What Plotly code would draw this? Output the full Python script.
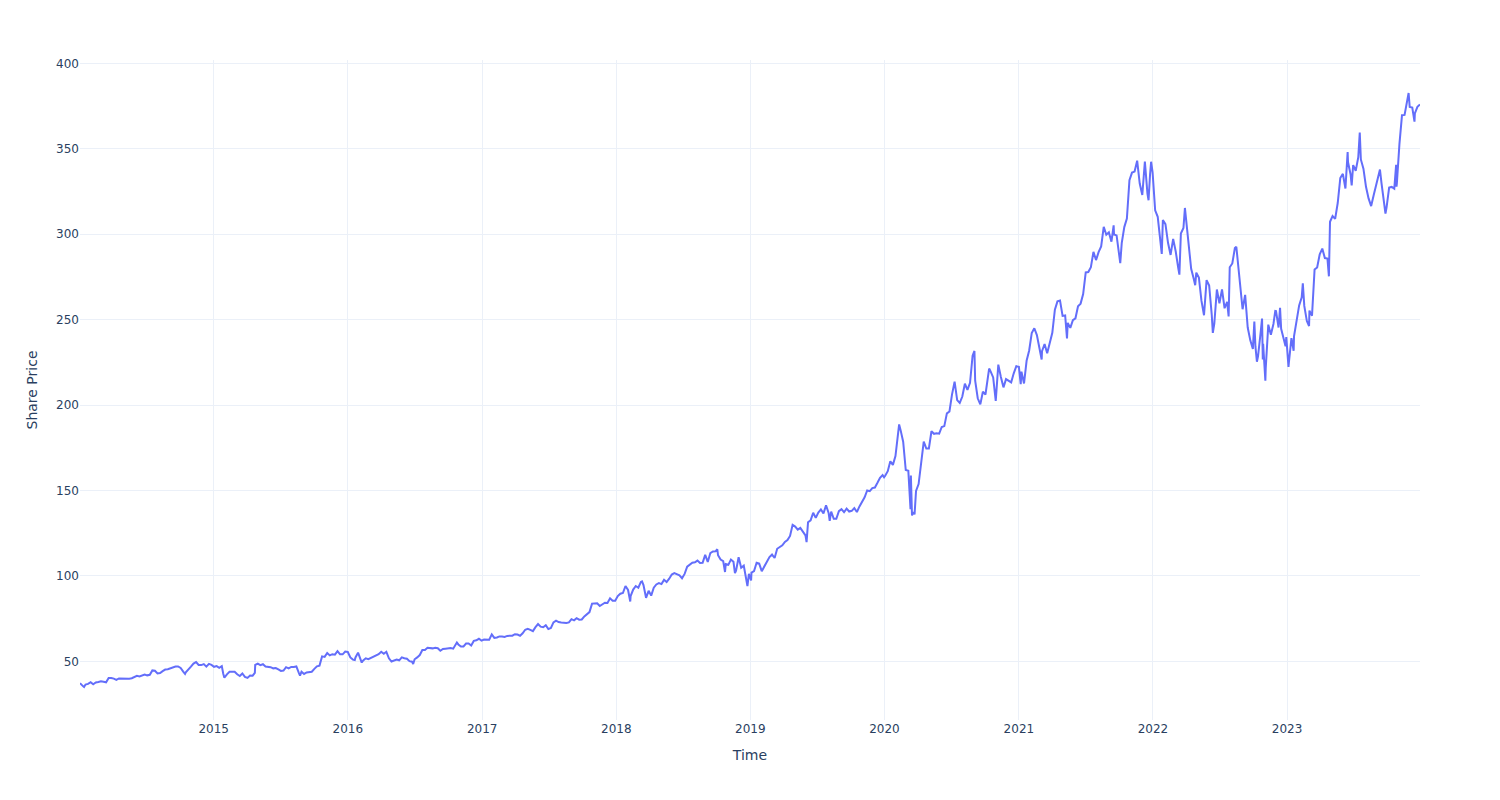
import pandas as pd
import plotly.graph_objs as go

# weekly closes (Fridays)
prices_2014 = [36.9, 35.5, 36.4, 36.8, 37.8, 36.6, 37.6, 37.9, 38.3, 38.0, 37.7, 40.2, 40.3,
               39.9, 39.2, 40.0, 39.9, 39.7, 39.5, 39.8, 40.1, 40.9, 41.5, 41.2, 41.7, 42.3,
               41.8, 42.1, 44.7, 44.5, 42.9, 43.2, 44.3, 45.2, 45.4, 46.0, 46.7, 47.0, 47.0,
               46.1, 44.0, 43.6, 45.0, 46.9, 48.7, 49.6, 47.9, 47.8, 48.4, 46.9, 48.5, 47.9]
prices_2015 = [46.8, 47.2, 46.2, 47.2, 40.4, 42.4, 43.9, 43.9, 43.9, 42.4, 41.4, 42.9, 40.9,
               40.3, 41.7, 41.6, 47.9, 48.7, 47.8, 48.3, 47.0, 47.0, 46.6, 45.9, 46.1, 45.3,
               44.4, 44.6, 46.6, 45.9, 46.7, 46.7, 47.0, 43.1, 43.9, 42.6, 43.5, 43.5, 43.9,
               45.6, 47.1, 47.5, 52.9, 52.6, 54.9, 53.5, 54.2, 53.9, 56.0, 54.1, 54.1, 55.7]
prices_2016 = [55.5, 52.3, 51.0, 52.3, 55.1, 50.2, 50.5, 51.8, 51.3, 52.0, 53.1, 53.5, 54.2,
               55.6, 54.4, 55.6, 51.8, 49.9, 50.4, 51.1, 50.6, 52.3, 51.8, 51.5, 50.1, 49.8,
               51.2, 52.3, 53.7, 56.6, 56.7, 57.96, 57.9, 57.6, 58.0, 57.7, 56.2, 57.2, 57.4,
               57.6, 57.8, 57.4, 59.7, 59.9, 58.7, 58.7, 60.4, 60.5, 59.3, 61.97, 62.3, 63.2, 62.1]
prices_2017 = [62.8, 62.7, 62.7, 65.8, 63.7, 64.0, 64.6, 64.6, 64.3, 64.9, 64.9, 65.0, 65.9,
               65.7, 65.0, 66.4, 68.5, 69.0, 68.4, 67.7, 70.0, 71.8, 70.3, 70.0, 71.2, 68.9,
               69.5, 72.8, 73.8, 73.0, 72.7, 72.5, 72.5, 72.8, 74.7, 74.0, 75.3, 74.4, 74.5,
               76.3, 77.5, 78.8, 83.8, 84.1, 84.0, 82.4, 83.3, 84.3, 84.2, 86.9, 85.5, 85.5]
prices_2018 = [88.2, 89.6, 90.0, 94.1, 91.8, 88.2, 92.0, 94.1, 93.1, 96.5, 94.6, 87.2, 91.3,
               88.5, 93.1, 95.0, 95.8, 95.2, 97.7, 96.4, 98.4, 100.8, 101.6, 101.0, 100.4, 98.6,
               101.2, 105.4, 106.3, 107.7, 108.0, 109.0, 107.6, 107.7, 112.3, 108.2, 113.4, 114.3, 114.4,
               112.1, 109.6, 108.7, 107.0, 106.5, 109.6, 108.3, 103.1, 110.9, 104.8, 106.0, 98.2, 101.2]
prices_2019 = [101.9, 102.8, 107.7, 107.2, 102.8, 105.7, 108.2, 111.0, 112.5, 110.5, 115.9, 117.05, 117.9,
               119.9, 120.95, 123.4, 129.9, 128.9, 127.1, 128.1, 126.2, 123.7, 131.4, 132.5, 137.0, 134.0,
               137.1, 138.9, 136.6, 141.3, 136.9, 137.7, 133.4, 133.4, 137.9, 139.1, 137.3, 139.4, 137.7,
               138.1, 139.7, 137.4, 140.7, 143.7, 146.0, 150.0, 149.6, 151.4, 151.75, 154.5, 157.4, 159.0]
prices_2020 = [158.6, 161.3, 167.1, 165.0, 170.2, 183.9, 185.35, 178.6, 162.0, 161.6, 158.8, 137.35, 149.7,
               153.8, 165.1, 178.6, 174.55, 174.6, 184.7, 183.2, 183.5, 183.25, 187.2, 187.7, 195.15, 196.3,
               206.3, 213.7, 202.9, 201.3, 205.0, 212.5, 208.9, 213.0, 228.9, 214.25, 204.0, 200.4, 207.8,
               206.2, 215.8, 219.7, 216.2, 202.5, 223.7, 216.5, 210.4, 215.2, 214.4, 213.3, 218.6, 222.75]
prices_2021 = [222.4, 219.6, 212.65, 225.95, 231.96, 242.2, 244.99, 240.97, 232.4, 231.6, 235.75, 230.35, 236.5,
               242.35, 255.85, 260.7, 261.15, 252.2, 252.5, 248.15, 245.2, 249.7, 250.8, 257.9, 259.4, 265.0,
               277.65, 277.9, 280.75, 289.7, 284.9, 289.5, 292.85, 304.4, 299.7, 301.1, 295.7, 299.9, 299.35,
               289.1, 294.85, 304.2, 309.2, 331.6, 336.1, 336.7, 343.1, 329.7, 323.0, 342.5, 323.8, 334.7, 336.3]
prices_2022 = [314.0, 310.2, 296.0, 308.3, 305.9, 295.0, 287.9, 297.3, 289.9, 280.1, 300.4, 303.7,
               309.4, 297.0, 279.8, 274.0, 277.5, 274.7, 261.1, 252.6, 273.2, 270.0, 253.0, 247.65, 267.7,
               259.6, 267.7, 256.7, 260.4, 280.7, 282.9, 291.9, 286.15, 268.1, 256.1, 264.5, 245.4, 237.9, 232.9,
               234.2, 228.6, 242.1, 235.9, 221.4, 247.1, 241.2, 247.5, 255.0, 245.4, 244.7, 238.7, 239.8]
prices_2023 = [224.9, 239.2, 240.2, 248.2, 258.35, 263.1, 258.06, 249.2, 255.3, 252.3, 279.4, 280.6, 288.3,
               291.6, 286.1, 285.8, 307.3, 310.65, 309.0, 318.3, 332.9, 335.4, 326.8, 342.3, 335.0, 340.5,
               337.2, 345.2, 343.8, 338.4, 327.8, 321.0, 316.5, 323.0, 328.7, 334.3, 330.2, 317.0, 315.75,
               327.3, 327.7, 326.7, 329.8, 352.8, 369.7, 369.85, 377.4, 374.5, 374.2, 370.7, 374.6, 376.0]

# daily highs / lows between the weekly samples
extra_dates = ['2014-01-02', '2014-01-13', '2014-10-15', '2015-01-27', '2015-04-23', '2015-08-24',
               '2016-01-20', '2016-02-08', '2016-06-27', '2016-10-24', '2018-02-08', '2018-03-12',
               '2018-10-03', '2018-10-24', '2018-11-20', '2018-12-24', '2019-01-03', '2019-06-03',
               '2019-08-05', '2019-12-31', '2020-02-10', '2020-03-12', '2020-03-16', '2020-03-23',
               '2020-09-02', '2020-10-12', '2021-01-06', '2021-03-04', '2021-05-12', '2021-09-16',
               '2021-10-04', '2021-12-20', '2021-12-27', '2022-01-25', '2022-03-14', '2022-03-29',
               '2022-04-26', '2022-06-13', '2022-07-26', '2022-08-16', '2022-10-04', '2022-10-11',
               '2022-10-25', '2022-10-27', '2022-11-03', '2022-11-30', '2022-12-13', '2022-12-28',
               '2023-01-05', '2023-01-19', '2023-02-13', '2023-03-02', '2023-04-25', '2023-06-15',
               '2023-06-26', '2023-07-18', '2023-09-11', '2023-09-26', '2023-10-25', '2023-10-26',
               '2023-11-28', '2023-12-14']
extra_prices = [37.2, 34.98, 42.7, 42.7, 43.3, 41.7,
                50.8, 49.3, 48.4, 61.0, 85.0, 96.8,
                115.6, 102.3, 101.7, 94.1, 97.4, 119.8,
                132.2, 157.7, 188.7, 139.1, 135.4, 136.0,
                231.7, 221.4, 212.25, 226.7, 239.0, 305.2,
                283.1, 319.9, 342.45, 288.5, 276.4, 315.4,
                270.2, 242.3, 251.9, 292.7, 248.9, 225.4,
                250.7, 226.75, 214.25, 255.1, 256.9, 234.5,
                222.3, 231.8, 271.3, 246.3, 275.4, 348.1,
                328.6, 359.5, 337.9, 312.1, 340.7, 327.9,
                382.7, 365.9]

weekly_prices = (prices_2014 + prices_2015 + prices_2016 + prices_2017 + prices_2018
                 + prices_2019 + prices_2020 + prices_2021 + prices_2022 + prices_2023)
weekly_dates = pd.date_range('2014-01-03', '2023-12-29', freq='W-FRI')
assert len(weekly_dates) == len(weekly_prices)

df = pd.concat([
    pd.DataFrame({'Date': weekly_dates, 'Close': weekly_prices}),
    pd.DataFrame({'Date': pd.to_datetime(extra_dates), 'Close': extra_prices}),
])
df = df.sort_values('Date').drop_duplicates('Date', keep='last')

fig = go.Figure(go.Scatter(x=df['Date'], y=df['Close'], mode='lines'))
# page body adds an 8px offset, margins are shifted to compensate
fig.update_layout(
    template='plotly_white',
    font=dict(family='DejaVu Sans'),
    width=1500,
    height=800,
    margin=dict(l=72, r=88, t=52, b=88),
    xaxis_title='Time',
    yaxis_title='Share Price',
)

fig.write_html('out.html')
